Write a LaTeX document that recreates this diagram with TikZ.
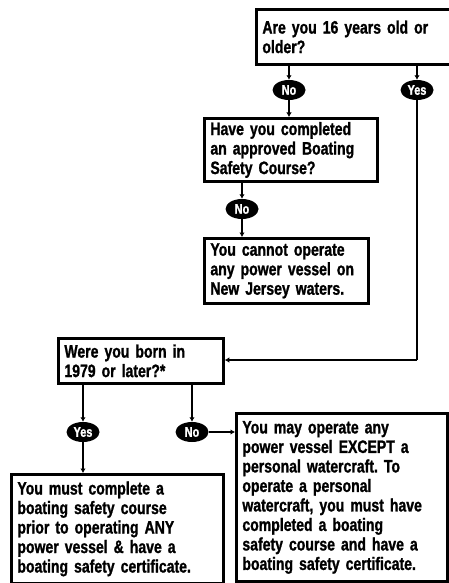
\documentclass[tikz,border=0pt]{standalone}
\usepackage{fontspec}
\setmainfont{Liberation Sans}[FakeStretch=0.78, BoldFeatures={FakeBold=1.2}]
\usetikzlibrary{shapes.geometric,arrows.meta}
\frenchspacing
\tikzset{
  qbox/.style={draw=black, line width=2.8pt, anchor=north west, align=left,
    inner xsep=6pt, inner ysep=2pt,
    font=\fontsize{18}{19.5}\selectfont\bfseries\frenchspacing},
  oval/.style={ellipse, fill=black, text=white, minimum width=33pt,
    minimum height=20pt, inner sep=0pt,
    font=\fontsize{14}{14}\selectfont\bfseries},
  conn/.style={line width=2.2pt, -{Latex[length=4.5pt,width=5.5pt]}},
  plain/.style={line width=2.2pt}
}
\begin{document}
\begin{tikzpicture}[x=1pt,y=-1pt]
\useasboundingbox (0,0) rectangle (448,583);
% boxes
\node[qbox, minimum width=200pt, minimum height=55pt, text width=188pt] (q1) at (255,8)
  {Are you 16 years old or\\older?};
\node[qbox, minimum width=173pt, minimum height=63pt, text width=161pt] (q2) at (203,117)
  {Have you completed\\an approved Boating\\Safety Course?};
\node[qbox, minimum width=164pt, minimum height=65pt, text width=152pt] (r1) at (203,237)
  {You cannot operate\\any power vessel on\\New Jersey waters.};
\node[qbox, minimum width=165pt, minimum height=45pt, text width=153pt] (q3) at (57,337)
  {Were you born in\\1979 or later?*};
\node[qbox, minimum width=212pt, minimum height=109pt, text width=200pt] (r2) at (10,473)
  {You must complete a\\boating safety course\\prior to operating ANY\\power vessel \& have a\\boating safety certificate.};
\node[qbox, minimum width=211pt, minimum height=168pt, text width=199pt] (r3) at (235,412)
  {You may operate any\\power vessel EXCEPT a\\personal watercraft. To\\operate a personal\\watercraft, you must have\\completed a boating\\safety course and have a\\boating safety certificate.};
% ovals
\node[oval] (no1) at (289,90) {No};
\node[oval] (yes1) at (417,90) {Yes};
\node[oval] (no2) at (242,209) {No};
\node[oval] (yes3) at (83,432) {Yes};
\node[oval] (no3) at (192,432) {No};
% corner coordinates
\coordinate (c1) at (417,360);
% connectors
\draw[conn] (q1.south -| no1) -- (no1);
\draw[conn] (no1) -- (q2.north -| no1);
\draw[conn] (q1.south -| yes1) -- (yes1);
\draw[plain] (yes1) -- (c1);
\draw[conn] (c1) -- (q3.east |- c1);
\draw[conn] (q2.south -| no2) -- (no2);
\draw[conn] (no2) -- (r1.north -| no2);
\draw[conn] (q3.south -| yes3) -- (yes3);
\draw[conn] (yes3) -- (r2.north -| yes3);
\draw[conn] (q3.south -| no3) -- (no3);
\draw[conn] (no3) -- (r3.west |- no3);
\end{tikzpicture}
\end{document}
